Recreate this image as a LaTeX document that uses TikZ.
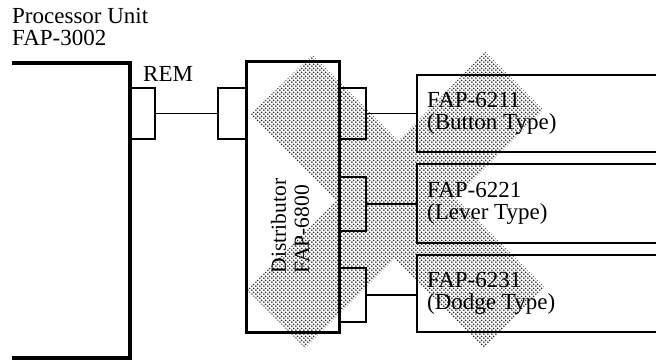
\documentclass[tikz,border=0pt]{standalone}
\usepackage{fontspec}
\setmainfont{Liberation Serif}
\usetikzlibrary{patterns.meta}
\tikzdeclarepattern{
  name=gdots, type=uncolored,
  bottom left={(0pt,0pt)}, top right={(4.2pt,4.2pt)}, tile size={(4.2pt,4.2pt)},
  code={\fill (1.05pt,1.05pt) circle (1.05pt); \fill (3.15pt,3.15pt) circle (1.05pt);}
}
\begin{document}
\begin{tikzpicture}[x=1pt,y=-1pt,
  rect/.style 2 args={minimum width=#1pt, minimum height=#2pt, inner sep=0pt, outer sep=0pt},
  conn/.style={draw, line width=2.8pt},
  distbox/.style={draw, line width=3pt},
  heavy/.style={line width=3.5pt},
  unitline/.style={line width=1.8pt},
  wire/.style={line width=1.4pt},
  lbl/.style={font=\fontsize{23}{22}\selectfont, inner sep=0pt, align=left},
  rlbl/.style={font=\fontsize{21.5}{23}\selectfont, inner sep=0pt, align=left},
]
\useasboundingbox (0,0) rectangle (656,363);
% dotted X shading
\fill[pattern=gdots, pattern color=black!85]
  (250,115) -- (312,55) -- (398,141) -- (485,52) -- (543,110) -- (455,198)
  -- (544,287) -- (484,348) -- (394,259) -- (305,348) -- (247,290)
  -- (336,201) -- cycle;
% nodes
\node[rect={118}{295}] (proc) at (71,210.5) {};
\node[conn, rect={25}{51}] (rem) at (142.5,113.5) {};
\node[conn, rect={28}{51}] (dl) at (232,113.5) {};
\node[distbox, rect={93}{271}] (dist) at (292.5,197.5) {};
\node[conn, rect={27}{51}] (c1) at (352.5,113.5) {};
\node[conn, rect={27}{54}] (c2) at (352.5,204) {};
\node[conn, rect={27}{54}] (c3) at (352.5,295) {};
\node[rect={239}{77}] (b1) at (536.5,113.5) {};
\node[rect={239}{79}] (b2) at (536.5,203.5) {};
\node[rect={239}{77}] (b3) at (536.5,293.5) {};
% outlines of open boxes
\draw[heavy] (proc.north west) -- (proc.north east) -- (proc.south east) -- (proc.south west);
\draw[unitline] (b1.north east) -- (b1.north west) -- (b1.south west) -- (b1.south east);
\draw[unitline] (b2.north east) -- (b2.north west) -- (b2.south west) -- (b2.south east);
\draw[unitline] (b3.north east) -- (b3.north west) -- (b3.south west) -- (b3.south east);
% wires
\draw[wire] (rem.east) -- (dl.west);
\draw[wire] (c1.east) -- (c1.east -| b1.west);
\draw[wire] (c2.east) -- (c2.east -| b2.west);
\draw[wire] (c3.east) -- (c3.east -| b3.west);
% labels
\node[lbl, anchor=north west] (ptitle) at (12,8) {Processor Unit\\FAP-3002};
\node[lbl, anchor=base west] (remlbl) at (143,82) {REM};
\node[rlbl, rotate=90] (distlbl) at (290,226) {Distributor\\FAP-6800};
\node[lbl, anchor=west] (t1) at (427,113.5) {FAP-6211\\(Button Type)};
\node[lbl, anchor=west] (t2) at (427,203.5) {FAP-6221\\(Lever Type)};
\node[lbl, anchor=west] (t3) at (427,293.5) {FAP-6231\\(Dodge Type)};
\end{tikzpicture}
\end{document}
